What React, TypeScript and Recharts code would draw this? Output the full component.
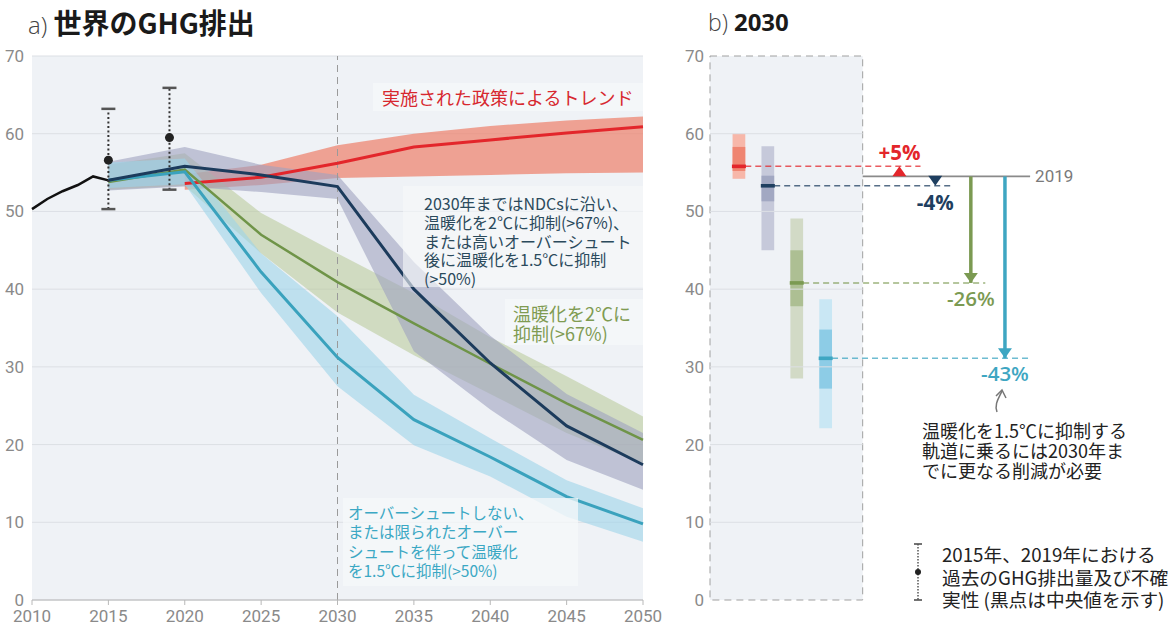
import React from "react";
import {
  ComposedChart,
  Line,
  Area,
  Scatter,
  ErrorBar,
  XAxis,
  YAxis,
  CartesianGrid,
  ReferenceLine,
  ReferenceArea,
  ReferenceDot,
} from "recharts";

// ---- panel a: world GHG emissions
const histYears = [2010, 2011, 2012, 2013, 2014, 2015];
const histValues = [50.3, 51.6, 52.6, 53.4, 54.5, 54.0];

const scenYears = [2015, 2020, 2025, 2030, 2035, 2040, 2045, 2050];
const policyLine = [null, 53.6, 54.4, 56.2, 58.3, 59.2, 60.1, 60.9];
const policyLow = [null, 52.8, 53.4, 54.3, 54.5, 54.7, 54.9, 55.0];
const policyHigh = [null, 54.8, 56.0, 58.5, 60.0, 61.0, 61.7, 62.2];

const ndcLine = [54.0, 55.8, 54.7, 53.2, 40.0, 30.5, 22.4, 17.4];
const ndcLow = [52.7, 53.2, 52.5, 51.6, 32.0, 24.5, 18.0, 14.2];
const ndcHigh = [56.4, 58.3, 56.0, 54.7, 43.5, 34.0, 26.5, 21.5];

const below2Line = [53.8, 55.4, 47.0, 40.9, 35.6, 30.4, 25.3, 20.6];
const below2Low = [52.8, 53.3, 44.6, 37.0, 31.5, 26.5, 21.5, 17.5];
const below2High = [56.0, 57.5, 49.8, 44.6, 39.5, 33.8, 28.8, 23.6];

const limit15Line = [54.0, 55.1, 42.2, 31.2, 23.2, 18.4, 13.3, 9.8];
const limit15Low = [53.0, 53.5, 39.5, 27.5, 19.9, 15.9, 10.7, 7.5];
const limit15High = [56.3, 56.8, 44.6, 36.5, 26.4, 20.8, 15.4, 11.8];

// past emissions with uncertainty (dot = median)
const obsYears = [2015, 2019];
const obsMedian = [56.6, 59.5];
const obsLow = [50.3, 52.8];
const obsHigh = [63.2, 65.9];

const xTicks = [2010, 2015, 2020, 2025, 2030, 2035, 2040, 2045, 2050];
const yTicks = [0, 10, 20, 30, 40, 50, 60, 70];

// ---- panel b: 2030
const bLow = [54.2, 45.0, 28.5, 22.1];
const bQ1 = [55.2, 51.3, 37.8, 27.2];
const bMedian = [55.8, 53.3, 40.8, 31.1];
const bQ3 = [58.3, 54.6, 45.0, 34.8];
const bHigh = [60.0, 58.4, 49.1, 38.7];
const bChange = ["+5%", "-4%", "-26%", "-43%"];
const level2019 = 54.5;

// layout of panel b on its hidden 0..12 x axis
const bColX = [1, 2, 3, 4];
const bHalf = 0.22;
const bBoxRight = 5.28;
const bArrowX = [6.55, 7.79, 9.02, 10.2];
const bDashEnd = [7.28, 8.31, 9.52, 11.07];
const bLineEnd = 11.07;

const bLight = ["#f7b7a9", "#c6c9da", "#d2dac6", "#c9e7f4"];
const bDark = ["#ef8571", "#a2a8c2", "#adbf93", "#8dcce6"];
const bMain = ["#e3262b", "#1f3f60", "#7b9a52", "#3ea6c2"];
const bLabelDy = [-14, 16, 15, 15];

const NUM_FONT = "'Liberation Sans Narrow', Roboto, sans-serif";
const JP_FONT = "'Noto Sans CJK JP', 'Noto Sans', sans-serif";

const band = (lo: (number | null)[], hi: (number | null)[], i: number) =>
  i < 0 || lo[i] == null ? undefined : [lo[i], hi[i]];
const pick = (arr: (number | null)[], i: number) =>
  i < 0 || arr[i] == null ? undefined : arr[i];

const allYears = Array.from(new Set([...histYears, ...scenYears])).sort((a, b) => a - b);
const rowsA = allYears.map((year) => {
  const h = histYears.indexOf(year);
  const s = scenYears.indexOf(year);
  return {
    year,
    hist: h >= 0 ? histValues[h] : undefined,
    policy: pick(policyLine, s),
    policyBand: band(policyLow, policyHigh, s),
    ndc: pick(ndcLine, s),
    ndcBand: band(ndcLow, ndcHigh, s),
    below2: pick(below2Line, s),
    below2Band: band(below2Low, below2High, s),
    limit15: pick(limit15Line, s),
    limit15Band: band(limit15Low, limit15High, s),
  };
});

const obsRows = obsYears.map((year, i) => ({
  year,
  value: obsMedian[i],
  err: [obsMedian[i] - obsLow[i], obsHigh[i] - obsMedian[i]],
}));
const capRows = obsYears.flatMap((year, i) => [
  { year, value: obsLow[i] },
  { year, value: obsHigh[i] },
]);

const rowsB = bColX.map((x, i) => ({ x, med: bMedian[i], i }));

const tickStyle = { fontSize: 17, fill: "#8a8a8a", fontFamily: NUM_FONT };

const boxStyle = (left: number, top: number, width: number, height: number): React.CSSProperties => ({
  position: "absolute",
  left,
  top,
  width,
  height,
  background: "rgba(246,248,250,0.75)",
  boxSizing: "border-box",
  fontFamily: JP_FONT,
  whiteSpace: "nowrap",
});

function PanelA() {
  return (
    <ComposedChart
      width={680}
      height={626}
      data={rowsA}
      margin={{ top: 56, right: 37, bottom: 0, left: 0 }}
    >
      <CartesianGrid vertical={false} fill="#eff2f6" stroke="#dcdfe4" />
      <XAxis
        dataKey="year"
        type="number"
        domain={[2010, 2050]}
        ticks={xTicks}
        interval={0}
        tick={tickStyle}
        tickSize={5}
        tickMargin={5}
        stroke="#b8b8b8"
        height={26}
      />
      <YAxis
        domain={[0, 70]}
        ticks={yTicks}
        tick={tickStyle}
        axisLine={false}
        tickLine={false}
        width={32}
      />
      <Area dataKey="policyBand" type="linear" fill="#ee8672" fillOpacity={0.75} stroke="none" isAnimationActive={false} />
      <Area dataKey="below2Band" type="linear" fill="#b6c996" fillOpacity={0.55} stroke="none" isAnimationActive={false} />
      <Area dataKey="ndcBand" type="linear" fill="#9ea1c0" fillOpacity={0.6} stroke="none" isAnimationActive={false} />
      <Area dataKey="limit15Band" type="linear" fill="#9dd3ea" fillOpacity={0.6} stroke="none" isAnimationActive={false} />
      <ReferenceLine x={2030} stroke="#9a9a9a" strokeDasharray="7 5" />
      <Line dataKey="hist" type="linear" stroke="#111" strokeWidth={2.5} dot={false} isAnimationActive={false} />
      <Line dataKey="policy" type="linear" stroke="#e3262b" strokeWidth={3} dot={false} isAnimationActive={false} />
      <Line dataKey="below2" type="linear" stroke="#6f9448" strokeWidth={2.5} dot={false} isAnimationActive={false} />
      <Line dataKey="limit15" type="linear" stroke="#3aa2bd" strokeWidth={3} dot={false} isAnimationActive={false} />
      <Line dataKey="ndc" type="linear" stroke="#1c3b5c" strokeWidth={3} dot={false} isAnimationActive={false} />
      <Scatter
        data={obsRows}
        dataKey="value"
        isAnimationActive={false}
        shape={(p: any) => <circle cx={p.cx} cy={p.cy} r={4.5} fill="#222" />}
      >
        <ErrorBar dataKey="err" direction="y" width={0} stroke="#333" strokeWidth={2} strokeDasharray="2 2.5" />
      </Scatter>
      <Scatter
        data={capRows}
        dataKey="value"
        isAnimationActive={false}
        shape={(p: any) => (
          <line x1={p.cx - 7} x2={p.cx + 7} y1={p.cy} y2={p.cy} stroke="#555" strokeWidth={2.5} />
        )}
      />
    </ComposedChart>
  );
}

const textDot = (label: string, color: string, dy: number, size: number, weight: number) => (p: any) => (
  <text
    x={p.cx}
    y={p.cy + dy}
    textAnchor="middle"
    dominantBaseline="central"
    fill={color}
    fontSize={size}
    fontWeight={weight}
    fontFamily="'Open Sans', sans-serif"
  >
    {label}
  </text>
);

function PanelB() {
  return (
    <ComposedChart
      width={514}
      height={626}
      data={rowsB}
      margin={{ top: 56, right: 117, bottom: 26, left: 0 }}
    >
      <XAxis dataKey="x" type="number" domain={[0, 12]} hide />
      <YAxis
        domain={[0, 70]}
        ticks={yTicks}
        tick={tickStyle}
        axisLine={false}
        tickLine={false}
        tickSize={4}
        width={50}
      />
      <ReferenceArea
        x1={0}
        x2={bBoxRight}
        y1={0}
        y2={70}
        fill="#eff2f6"
        fillOpacity={1}
        stroke="#a0a0a0"
        strokeDasharray="7 5"
      />
      {yTicks
        .filter((t) => t > 0 && t < 70)
        .map((t) => (
          <ReferenceLine
            key={"g" + t}
            segment={[
              { x: 0, y: t },
              { x: bBoxRight, y: t },
            ]}
            stroke="#dcdfe4"
          />
        ))}
      {bColX.map((x, i) => (
        <ReferenceArea
          key={"l" + i}
          x1={x - bHalf}
          x2={x + bHalf}
          y1={bLow[i]}
          y2={bHigh[i]}
          fill={bLight[i]}
          fillOpacity={1}
          stroke="none"
        />
      ))}
      {bColX.map((x, i) => (
        <ReferenceArea
          key={"d" + i}
          x1={x - bHalf}
          x2={x + bHalf}
          y1={bQ1[i]}
          y2={bQ3[i]}
          fill={bDark[i]}
          fillOpacity={1}
          stroke="none"
        />
      ))}
      {bColX.map((x, i) => (
        <ReferenceLine
          key={"m" + i}
          segment={[
            { x: x + bHalf, y: bMedian[i] },
            { x: bDashEnd[i], y: bMedian[i] },
          ]}
          stroke={bMain[i]}
          strokeOpacity={0.75}
          strokeWidth={1.5}
          strokeDasharray="6 4"
        />
      ))}
      <ReferenceLine
        segment={[
          { x: bBoxRight, y: level2019 },
          { x: bLineEnd, y: level2019 },
        ]}
        stroke="#8a8a8a"
        strokeWidth={1.8}
      />
      {bArrowX.map((x, i) => (
        <ReferenceLine
          key={"s" + i}
          segment={[
            { x, y: level2019 },
            { x, y: bMedian[i] },
          ]}
          stroke={bMain[i]}
          strokeWidth={i < 2 ? 0 : 3.5}
        />
      ))}
      {bArrowX.map((x, i) => (
        <ReferenceDot
          key={"h" + i}
          x={x}
          y={bMedian[i]}
          shape={(p: any) => {
            const up = bMedian[i] > level2019;
            const b = up ? p.cy + 10 : p.cy - 10;
            return (
              <path
                d={`M${p.cx},${p.cy} L${p.cx - 7},${b} L${p.cx + 7},${b} Z`}
                fill={bMain[i]}
              />
            );
          }}
        />
      ))}
      {bArrowX.map((x, i) => (
        <ReferenceDot
          key={"t" + i}
          x={x}
          y={bMedian[i]}
          shape={textDot(bChange[i], bMain[i], bLabelDy[i], 20.5, i < 2 ? 700 : 600)}
        />
      ))}
      <ReferenceDot
        x={bLineEnd}
        y={level2019}
        shape={(p: any) => (
          <text
            x={p.cx + 5}
            y={p.cy}
            dominantBaseline="central"
            fill="#7a7a7a"
            fontSize={17}
            fontFamily={NUM_FONT}
          >
            2019
          </text>
        )}
      />
      <Scatter
        dataKey="med"
        isAnimationActive={false}
        shape={(p: any) => (
          <rect x={p.cx - 7} y={p.cy - 1.8} width={14} height={3.6} fill={bMain[p.payload.i]} />
        )}
      />
    </ComposedChart>
  );
}

export default function App() {
  return (
    <div
      style={{
        position: "absolute",
        left: 0,
        top: 0,
        width: 1174,
        height: 626,
        background: "#fff",
        overflow: "hidden",
        fontFamily: JP_FONT,
      }}
    >
      <div style={{ position: "absolute", left: 0, top: 0 }}>
        <PanelA />
      </div>
      <div style={{ position: "absolute", left: 660, top: 0 }}>
        <PanelB />
      </div>

      {/* titles */}
      <div style={{ position: "absolute", left: 28, top: 3, whiteSpace: "nowrap", lineHeight: "38px" }}>
        <span style={{ fontSize: 24, color: "#444", fontWeight: 300, fontFamily: "'Open Sans', sans-serif" }}>a) </span>
        <span style={{ fontSize: 28, color: "#1a1a1a", fontWeight: 700 }}>世界のGHG排出</span>
      </div>
      <div style={{ position: "absolute", left: 708, top: 3, whiteSpace: "nowrap", lineHeight: "38px" }}>
        <span style={{ fontSize: 23, color: "#444", fontWeight: 300, fontFamily: "'Open Sans', sans-serif" }}>b) </span>
        <span style={{ fontSize: 24, color: "#1a1a1a", fontWeight: 700, fontFamily: "'Open Sans', sans-serif" }}>2030</span>
      </div>

      {/* scenario labels, panel a */}
      <div style={{ ...boxStyle(373, 83, 270, 28), color: "#d7282f", fontSize: 18, lineHeight: "28px", paddingLeft: 9 }}>
        実施された政策によるトレンド
      </div>
      <div
        style={{
          ...boxStyle(403, 186, 240, 101),
          color: "#2b4a5c",
          fontSize: 16,
          lineHeight: "18.8px",
          paddingLeft: 21,
          paddingTop: 8,
          background: "rgba(246,248,250,0.6)",
        }}
      >
        2030年まではNDCsに沿い、
        <br />
        温暖化を2℃に抑制(&gt;67%)、
        <br />
        または高いオーバーシュート
        <br />
        後に温暖化を1.5℃に抑制
        <br />
        (&gt;50%)
      </div>
      <div style={{ ...boxStyle(505, 299, 138, 46), color: "#7f9b52", fontSize: 18, lineHeight: "20px", paddingLeft: 8, paddingTop: 4 }}>
        温暖化を2℃に
        <br />
        抑制(&gt;67%)
      </div>
      <div style={{ ...boxStyle(343, 498, 235, 88), color: "#3ba8c4", fontSize: 15.5, lineHeight: "19.3px", paddingLeft: 5, paddingTop: 5 }}>
        オーバーシュートしない、
        <br />
        または限られたオーバー
        <br />
        シュートを伴って温暖化
        <br />
        を1.5℃に抑制(&gt;50%)
      </div>

      {/* notes, panel b */}
      <svg width={1174} height={626} style={{ position: "absolute", left: 0, top: 0, pointerEvents: "none" }}>
        <path d="M997,412 C994,404 999,398 1002,391" fill="none" stroke="#777" strokeWidth={1.5} />
        <path d="M996,396 L1002,390 L1006,398" fill="none" stroke="#777" strokeWidth={1.5} />
        <line x1={914} x2={922} y1={544} y2={544} stroke="#444" strokeWidth={1.5} />
        <line x1={918} x2={918} y1={544} y2={600} stroke="#555" strokeWidth={1.5} strokeDasharray="1.5 1.5" />
        <line x1={914} x2={922} y1={600} y2={600} stroke="#444" strokeWidth={1.5} />
        <circle cx={918} cy={572} r={3} fill="#222" />
      </svg>
      <div style={{ position: "absolute", left: 922, top: 421, color: "#222", fontSize: 18, lineHeight: "19.8px", whiteSpace: "nowrap" }}>
        温暖化を1.5℃に抑制する
        <br />
        軌道に乗るには2030年ま
        <br />
        でに更なる削減が必要
      </div>
      <div style={{ position: "absolute", left: 942, top: 543, color: "#222", fontSize: 18.7, lineHeight: "22.5px", whiteSpace: "nowrap" }}>
        2015年、2019年における
        <br />
        過去のGHG排出量及び不確
        <br />
        実性 (黒点は中央値を示す)
      </div>
    </div>
  );
}
